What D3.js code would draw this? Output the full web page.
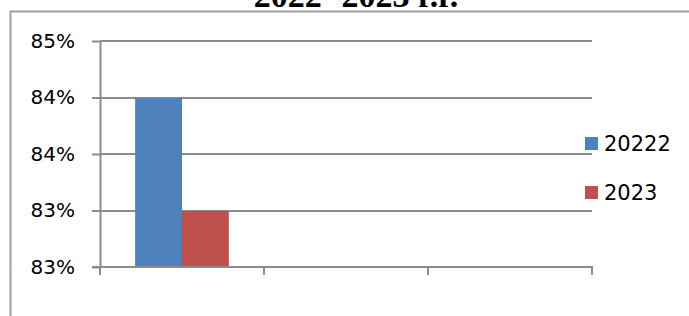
<!DOCTYPE html>
<html>
<head>
<meta charset="utf-8">
<script src="https://cdn.jsdelivr.net/npm/d3@7"></script>
<style>
  body { margin: 0; background: #fff; }
  svg { display: block; font-family: "DejaVu Sans", sans-serif; }
</style>
</head>
<body>
<svg id="chart" width="689" height="316"></svg>
<script>
// data
var title = '2022- 2023 г.г.';
var categories = ['1', '2', '3'];
var seriesNames = ['20222', '2023'];
var seriesColors = ['#4f81bd', '#c0504d'];
var values20222 = [0.845, null, null];
var values2023 = [0.835, null, null];
var yTicks = [0.83, 0.835, 0.84, 0.845, 0.85];
var yTickLabels = ['83%', '83%', '84%', '84%', '85%'];

var svg = d3.select('#chart');
var plot = { left: 100, right: 592, top: 41, bottom: 267 };

// chart frame (left and top edges show, the rest is cut off)
svg.append('path')
    .attr('d', 'M10.5,316 V11.5 H689')
    .attr('fill', 'none')
    .attr('stroke', '#a0a0a0')
    .attr('stroke-width', 2);

// title, mostly cut off at the top as in the source
svg.append('text')
    .attr('x', 356)
    .attr('y', 7)
    .attr('text-anchor', 'middle')
    .style('font-family', '"Liberation Serif", serif')
    .style('font-weight', 'bold')
    .style('font-size', '34px')
    .text(title);

var x = d3.scaleBand().domain(categories).range([plot.left, plot.right]);
var inner = d3.scaleBand().domain(seriesNames).range([0, x.bandwidth()])
    .paddingInner(0).paddingOuter(0.75);
var y = d3.scaleLinear().domain([0.83, 0.85]).range([plot.bottom, plot.top]);

// gridlines
svg.append('g').selectAll('line')
    .data(yTicks.slice(1))
    .join('line')
    .attr('x1', plot.left).attr('x2', plot.right)
    .attr('y1', function(d) { return Math.round(y(d)); })
    .attr('y2', function(d) { return Math.round(y(d)); })
    .attr('stroke', '#8c8c8c')
    .attr('stroke-width', 2);

// bars
var series = [values20222, values2023];
series.forEach(function(vals, s) {
    svg.append('g').selectAll('rect')
        .data(vals.map(function(v, i) { return { cat: categories[i], v: v }; })
                  .filter(function(d) { return d.v != null; }))
        .join('rect')
        .attr('x', function(d) { return x(d.cat) + inner(seriesNames[s]); })
        .attr('width', inner.bandwidth())
        .attr('y', function(d) { return Math.round(y(d.v)); })
        .attr('height', function(d) { return plot.bottom - Math.round(y(d.v)); })
        .attr('fill', seriesColors[s]);
});

// y axis
var yAxis = svg.append('g')
    .attr('transform', 'translate(' + plot.left + ',0)')
    .call(d3.axisLeft(y).tickValues(yTicks)
        .tickFormat(function(d, i) { return yTickLabels[i]; })
        .tickSizeInner(8).tickSizeOuter(0).tickPadding(17));
yAxis.select('.domain').attr('stroke', '#8c8c8c').attr('stroke-width', 2);
yAxis.selectAll('.tick line').attr('stroke', '#8c8c8c').attr('stroke-width', 2);
yAxis.selectAll('.tick text').attr('fill', '#000').style('font-size', '20px')
    .style('font-family', '"DejaVu Sans", sans-serif');

// x axis with category ticks at band edges, no labels
var xAxis = svg.append('g')
    .attr('transform', 'translate(0,' + plot.bottom + ')');
xAxis.append('line')
    .attr('x1', plot.left - 8).attr('x2', plot.right + 1)
    .attr('stroke', '#8c8c8c').attr('stroke-width', 2);
var edges = categories.map(function(c) { return x(c); }).concat([plot.right]);
xAxis.selectAll('line.tk')
    .data(edges)
    .join('line')
    .attr('class', 'tk')
    .attr('x1', function(d) { return d; }).attr('x2', function(d) { return d; })
    .attr('y1', 0).attr('y2', 8)
    .attr('stroke', '#8c8c8c').attr('stroke-width', 2);

// legend
var legend = svg.append('g').attr('transform', 'translate(585,137)');
seriesNames.forEach(function(name, i) {
    var g = legend.append('g').attr('transform', 'translate(0,' + (i * 49) + ')');
    g.append('rect').attr('width', 13).attr('height', 13).attr('fill', seriesColors[i]);
    g.append('text')
        .attr('x', 19).attr('y', 14)
        .style('font-size', '21px')
        .text(name);
});
</script>
</body>
</html>
